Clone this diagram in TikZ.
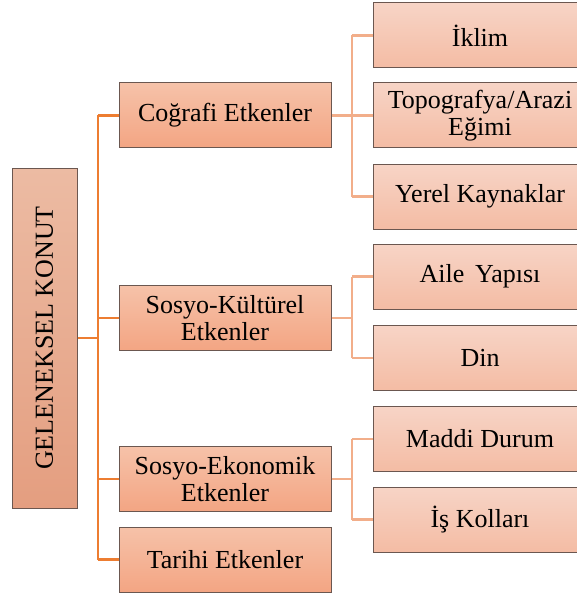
\documentclass[tikz,border=0pt]{standalone}
\usepackage{fontspec}
\setmainfont{Liberation Serif}
\newfontfamily\tnr{Liberation Serif}
\definecolor{trunk}{HTML}{ED7D31}
\definecolor{branch}{HTML}{F2AE8A}
\definecolor{bord}{HTML}{6B5750}
\definecolor{rtop}{HTML}{ECBBA3}
\definecolor{rbot}{HTML}{E49E80}
\definecolor{atop}{HTML}{F6C2A9}
\definecolor{abot}{HTML}{F3A583}
\definecolor{btop}{HTML}{F7D4C6}
\definecolor{bbot}{HTML}{F4BCA4}
\tikzset{
  box/.style={draw=bord, line width=1pt, rectangle, inner sep=0pt, align=center,
    font=\tnr\fontsize{26}{27.5}\selectfont, text=black},
  rootbox/.style={box, top color=rtop, bottom color=rbot, minimum width=65pt, minimum height=340pt},
  lone/.style={box, top color=atop, bottom color=abot, minimum width=212pt, minimum height=65pt},
  ltwo/.style={box, top color=btop, bottom color=bbot, minimum width=214pt, minimum height=65pt},
  tline/.style={draw=trunk, line width=2.6pt},
  bline/.style={draw=branch, line width=2.2pt}
}
\begin{document}
\begin{tikzpicture}[x=1pt,y=1pt]
\useasboundingbox (0,0) rectangle (577,-596);
\begin{scope}
\clip (0,0) rectangle (577,-596);
\coordinate (t) at (98,-338);
\coordinate (s) at (352,0);
\node[rootbox] (root) at (44.5,-338) {\rotatebox{90}{GELENEKSEL KONUT}};
\node[lone] (cog) at (225,-115.5) {Coğrafi Etkenler};
\node[lone] (kul) at (225,-318) {Sosyo-Kültürel\\Etkenler};
\node[lone] (eko) at (225,-479) {Sosyo-Ekonomik\\Etkenler};
\node[lone] (tar) at (225,-559.5) {Tarihi Etkenler};
\node[ltwo] (ikl) at (480,-35.5) {İklim};
\node[ltwo] (top) at (480,-115.5) {Topografya/Arazi\\Eğimi};
\node[ltwo] (yer) at (480,-196.5) {Yerel Kaynaklar};
\node[ltwo] (ail) at (480,-276.5) {Aile\, Yapısı};
\node[ltwo] (din) at (480,-358) {Din};
\node[ltwo] (mad) at (480,-439) {Maddi Durum};
\node[ltwo] (isk) at (480,-519.5) {İş Kolları};
\draw[tline] (root.east) -- (root.east -| t);
\draw[tline] (cog.west -| t) -- (tar.west -| t);
\foreach \n in {cog,kul,eko,tar} \draw[tline] (\n.west) -- (\n.west -| t);
\draw[bline] (cog.east) -- (cog.east -| s);
\draw[bline] (ikl.west -| s) -- (yer.west -| s);
\foreach \n in {ikl,top,yer} \draw[bline] (\n.west) -- (\n.west -| s);
\draw[bline] (kul.east) -- (kul.east -| s);
\draw[bline] (ail.west -| s) -- (din.west -| s);
\foreach \n in {ail,din} \draw[bline] (\n.west) -- (\n.west -| s);
\draw[bline] (eko.east) -- (eko.east -| s);
\draw[bline] (mad.west -| s) -- (isk.west -| s);
\foreach \n in {mad,isk} \draw[bline] (\n.west) -- (\n.west -| s);
\end{scope}
\end{tikzpicture}
\end{document}
